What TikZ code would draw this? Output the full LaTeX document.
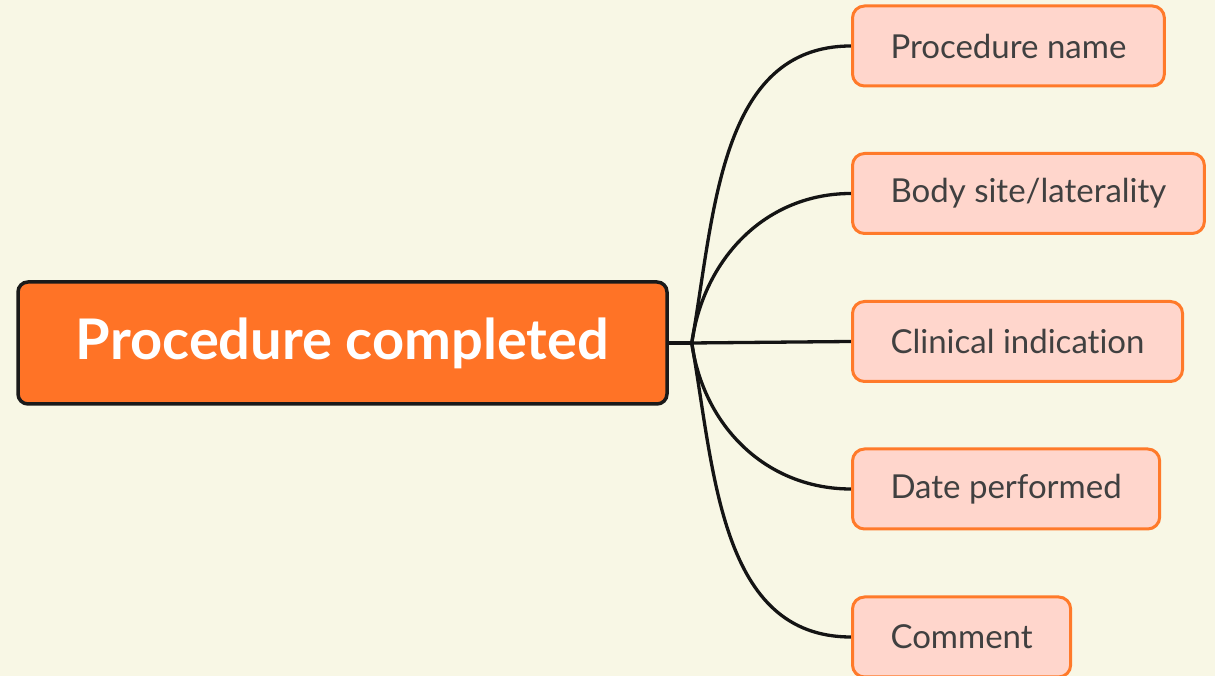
\documentclass[tikz,border=0pt]{standalone}
\usepackage{fontspec}
\setmainfont{Lato}[Ligatures=NoCommon]
\usetikzlibrary{backgrounds}
\definecolor{paper}{RGB}{248,247,229}
\definecolor{rootfill}{RGB}{255,115,38}
\definecolor{rootline}{RGB}{26,26,26}
\definecolor{leaffill}{RGB}{255,214,204}
\definecolor{leafline}{RGB}{255,122,42}
\definecolor{leaftext}{RGB}{64,64,64}
\definecolor{linkcol}{RGB}{20,20,20}
\begin{document}
\begin{tikzpicture}[x=1pt,y=1pt,
  root/.style={draw=rootline, line width=3.5pt, fill=rootfill, rounded corners=10pt,
    minimum width=649pt, minimum height=122pt, text=white,
    font=\fontsize{56}{64}\selectfont\bfseries},
  leaf/.style={draw=leafline, line width=3pt, fill=leaffill, rounded corners=12pt,
    minimum height=80pt, inner xsep=38pt, anchor=west, text=leaftext,
    font=\fontsize{33}{38}\selectfont},
  link/.style={draw=linkcol, line width=3.3pt, line cap=round}]

  \useasboundingbox (0,0) rectangle (1215,676);

  % central topic
  \node[root] (root) at (342.5,333) {Procedure completed};

  % branches
  \node[leaf] (c1) at (851,630)   {Procedure name};
  \node[leaf] (c2) at (851,482.5) {Body site/laterality};
  \node[leaf] (c3) at (851,334.5) {Clinical indication};
  \node[leaf] (c4) at (851,187)   {Date performed};
  \node[leaf] (c5) at (851,39)    {Comment};

  \coordinate (hub) at ([xshift=23pt]root.east);

  \begin{scope}[on background layer]
    \fill[paper] (0,0) rectangle (1215,676);
    \draw[link, line width=4.5pt] (root.east) -- (hub);
    \draw[link] (hub) to[out=80,in=180] (c1.west);
    \draw[link] (hub) to[out=82,in=180] (c2.west);
    \draw[link] (hub) -- (c3.west);
    \draw[link] (hub) to[out=-82,in=180] (c4.west);
    \draw[link] (hub) to[out=-80,in=180] (c5.west);
  \end{scope}
\end{tikzpicture}
\end{document}
